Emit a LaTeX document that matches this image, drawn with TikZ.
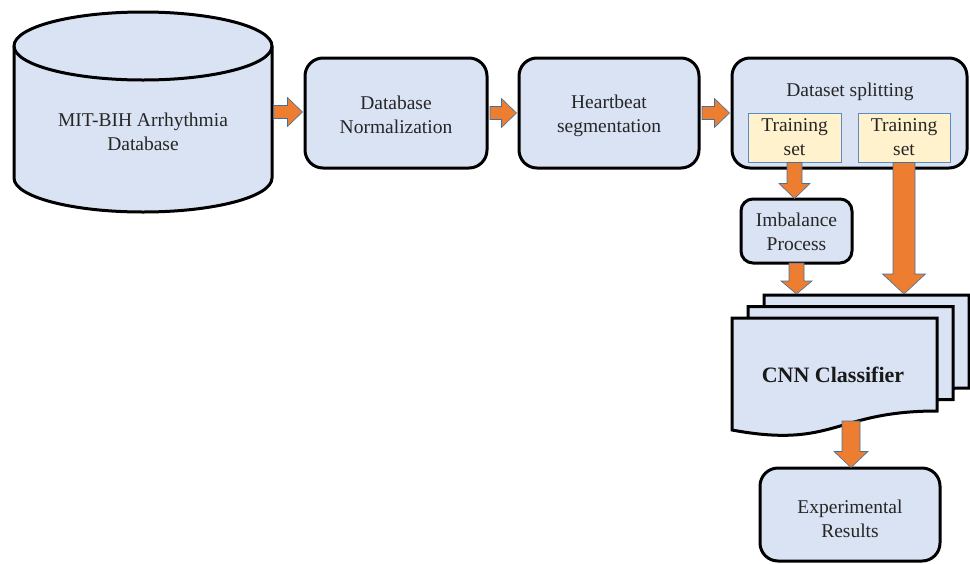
\documentclass[tikz,border=0pt]{standalone}
\usepackage{fontspec}
\setmainfont{Liberation Serif}
\usetikzlibrary{calc}
\definecolor{boxfill}{HTML}{DAE3F3}
\definecolor{setfill}{HTML}{FFF2CC}
\definecolor{setedge}{HTML}{5B8BC5}
\definecolor{arrowfill}{HTML}{ED7D31}
\definecolor{arrowedge}{HTML}{41719C}
\begin{document}
\begin{tikzpicture}[x=1pt,y=-1pt,
  txt/.style={font=\fontsize{19.5}{24}\selectfont, align=center, text=black!85},
  stepbox/.style={draw=black, line width=3pt, fill=boxfill, rounded corners=18pt, inner sep=0pt},
  setbox/.style={txt, draw=setedge, line width=0.9pt, fill=setfill, inner sep=0pt},
  arrowbody/.style={fill=arrowfill, draw=arrowedge, line width=0.6pt},
  % horizontal block arrow: shaft half width, head half width, head length
  harrow/.style n args={3}{to path={
    let \p1=(\tikztostart), \p2=(\tikztotarget) in
    (\x1,\y1+#1) -- (\x2-#3,\y1+#1) -- (\x2-#3,\y1+#2) -- (\x2,\y1)
    -- (\x2-#3,\y1-#2) -- (\x2-#3,\y1-#1) -- (\x1,\y1-#1) -- cycle}},
  % downward block arrow: shaft half width, head half width, head length
  varrow/.style n args={3}{to path={
    let \p1=(\tikztostart), \p2=(\tikztotarget) in
    (\x1-#1,\y1) -- (\x1-#1,\y2+#3) -- (\x1-#2,\y2+#3) -- (\x1,\y2)
    -- (\x1+#2,\y2+#3) -- (\x1+#1,\y2+#3) -- (\x1+#1,\y1) -- cycle}},
]
\useasboundingbox (0,0) rectangle (970,563);

% database cylinder
\node[minimum width=258pt, minimum height=200pt, inner sep=0pt] (db) at (143,112) {};
\draw[line width=3pt, fill=boxfill]
  (14,46) -- (14,178) arc[start angle=180, end angle=360, x radius=129pt, y radius=34pt]
  -- (272,46) arc[start angle=0, end angle=180, x radius=129pt, y radius=34pt] -- cycle;
\draw[line width=3pt] (14,46) arc[start angle=180, end angle=360, x radius=129pt, y radius=34pt];
\node[txt] (dbtext) at (143,132) {MIT-BIH Arrhythmia\\Database};

% processing steps
\node[stepbox, minimum width=182pt, minimum height=110pt] (norm) at (396,113) {};
\node[txt] (normtext) at ([yshift=-2pt]norm.center) {Database\\Normalization};
\node[stepbox, minimum width=180pt, minimum height=110pt] (seg) at (609,113) {};
\node[txt] (segtext) at ([yshift=-3pt]seg.center) {Heartbeat\\segmentation};
\node[stepbox, minimum width=235pt, minimum height=110pt] (split) at (849.5,113) {};
\node[txt] (splittitle) at (850,92) {Dataset splitting};
\node[setbox, minimum width=93pt, minimum height=49pt] (tr1) at (794.5,137.5) {Training\\set};
\node[setbox, minimum width=92pt, minimum height=49pt] (tr2) at (904,137.5) {Training\\set};
\node[stepbox, rounded corners=12pt, minimum width=111pt, minimum height=64pt] (imb) at (796.5,231) {};
\node[txt] (imbtext) at ([yshift=-1pt]imb.center) {Imbalance\\Process};

% stacked CNN documents
\foreach \dx/\dy in {32/-23, 16/-11.5, 0/0} {
  \draw[line width=3pt, fill=boxfill, shift={(\dx,\dy)}]
    (732,318) -- (937,318) -- (937,411)
    .. controls (834.5,411) and (834.5,449) .. (732,430) -- cycle;
}
\node[font=\fontsize{22}{26}\selectfont\bfseries, text=black!90] (cnn) at (833,375) {CNN Classifier};
\coordinate (cnnIn1) at (796,294);
\coordinate (cnnIn2) at (904,294);
\coordinate (cnnOut) at (851,421);

\node[stepbox, minimum width=180pt, minimum height=93pt] (res) at (850,514.5) {};
\node[txt] (restext) at ([yshift=-4pt]res.center) {Experimental\\Results};

% connectors
\path[arrowbody] ([xshift=1.5pt]db.east) to[harrow={6.5pt}{14.5pt}{15pt}] ([xshift=-1pt]norm.west);
\path[arrowbody] ([xshift=1.5pt]norm.east) to[harrow={6.5pt}{14.5pt}{15pt}] ([xshift=-1pt]seg.west);
\path[arrowbody] ([xshift=1.5pt]seg.east) to[harrow={6.5pt}{14.5pt}{15pt}] ([xshift=-1pt]split.west);
\path[arrowbody] (tr1.south) to[varrow={7.5pt}{15.5pt}{15pt}] ([yshift=-1pt]imb.north);
\path[arrowbody] ([yshift=1.5pt]imb.south) to[varrow={7.5pt}{15.5pt}{13pt}] (cnnIn1);
\path[arrowbody] (tr2.south) to[varrow={11pt}{21.5pt}{20pt}] (cnnIn2);
\path[arrowbody] (cnnOut) to[varrow={9pt}{17pt}{16pt}] ([yshift=-1pt]res.north);
\end{tikzpicture}
\end{document}
